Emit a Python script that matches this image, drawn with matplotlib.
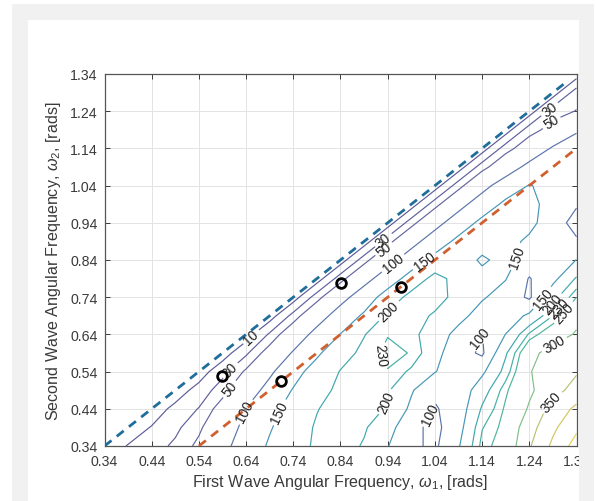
import numpy as np
import matplotlib
matplotlib.use("Agg")
import matplotlib.pyplot as plt
from matplotlib.patches import Rectangle

plt.rcParams['font.family'] = ['Liberation Sans', 'DejaVu Sans']
plt.rcParams['mathtext.fontset'] = 'custom'
plt.rcParams['mathtext.rm'] = 'Liberation Sans'
plt.rcParams['mathtext.it'] = 'Liberation Sans:italic'

# ---- data -------------------------------------------------------------
omega1 = [0.34, 0.39, 0.44, 0.49, 0.54, 0.59, 0.64, 0.69, 0.74, 0.79, 0.84,
          0.89, 0.94, 0.99, 1.04, 1.09, 1.14, 1.19, 1.24, 1.29, 1.34]
omega2 = [0.34, 0.39, 0.44, 0.49, 0.54, 0.59, 0.64, 0.69, 0.74, 0.79, 0.84,
          0.89, 0.94, 0.99, 1.04, 1.09, 1.14, 1.19, 1.24, 1.29, 1.34]

# rows: omega2 (bottom -> top), columns: omega1 (left -> right)
grid_values = [
    [0, 11, 21, 34, 56, 88, 121, 156, 187, 205, 218, 196, 152, 108, 92, 145, 240, 265, 345, 410, 470],
    [0, 0, 11, 25, 45, 77, 111, 146, 177, 205, 220, 205, 170, 112, 88, 130, 228, 260, 330, 390, 440],
    [0, 0, 0, 15, 31, 62, 101, 136, 167, 198, 218, 222, 195, 140, 96, 120, 205, 255, 305, 370, 410],
    [0, 0, 0, 0, 17, 41, 77, 115, 153, 184, 210, 226, 205, 155, 108, 115, 180, 245, 292, 330, 370],
    [0, 0, 0, 0, 0, 23, 54, 92, 133, 170, 202, 222, 228, 192, 152, 125, 140, 215, 298, 318, 345],
    [0, 0, 0, 0, 0, 0, 26, 63, 104, 142, 183, 210, 240, 228, 165, 120, 92, 195, 285, 320, 325],
    [0, 0, 0, 0, 0, 0, 0, 33, 73, 114, 151, 198, 228, 212, 175, 135, 99, 151, 235, 275, 305],
    [0, 0, 0, 0, 0, 0, 0, 0, 37, 80, 120, 157, 208, 212, 196, 165, 130, 120, 160, 230, 285],
    [0, 0, 0, 0, 0, 0, 0, 0, 0, 40, 85, 123, 172, 215, 212, 190, 155, 130, 92, 185, 250],
    [0, 0, 0, 0, 0, 0, 0, 0, 0, 0, 40, 85, 123, 170, 215, 185, 165, 152, 97, 135, 205],
    [0, 0, 0, 0, 0, 0, 0, 0, 0, 0, 0, 40, 85, 123, 165, 175, 143, 165, 130, 115, 151],
    [0, 0, 0, 0, 0, 0, 0, 0, 0, 0, 0, 0, 40, 85, 123, 162, 170, 168, 140, 122, 105],
    [0, 0, 0, 0, 0, 0, 0, 0, 0, 0, 0, 0, 0, 40, 85, 123, 162, 172, 165, 120, 85],
    [0, 0, 0, 0, 0, 0, 0, 0, 0, 0, 0, 0, 0, 0, 40, 85, 123, 160, 165, 130, 104],
    [0, 0, 0, 0, 0, 0, 0, 0, 0, 0, 0, 0, 0, 0, 0, 40, 85, 123, 152, 138, 128],
    [0, 0, 0, 0, 0, 0, 0, 0, 0, 0, 0, 0, 0, 0, 0, 0, 40, 75, 113, 140, 128],
    [0, 0, 0, 0, 0, 0, 0, 0, 0, 0, 0, 0, 0, 0, 0, 0, 0, 40, 68, 105, 135],
    [0, 0, 0, 0, 0, 0, 0, 0, 0, 0, 0, 0, 0, 0, 0, 0, 0, 0, 40, 60, 92],
    [0, 0, 0, 0, 0, 0, 0, 0, 0, 0, 0, 0, 0, 0, 0, 0, 0, 0, 0, 40, 51],
    [0, 0, 0, 0, 0, 0, 0, 0, 0, 0, 0, 0, 0, 0, 0, 0, 0, 0, 0, 0, 40],
    [0, 0, 0, 0, 0, 0, 0, 0, 0, 0, 0, 0, 0, 0, 0, 0, 0, 0, 0, 0, 0],
]

contour_levels = [10, 30, 50, 100, 150, 200, 230, 250, 300, 350, 400, 450]
level_colors = ['#5d5b98', '#5f5f9c', '#63659f', '#5a74aa', '#4596b6', '#3ea7ae',
                '#43b0a6', '#4cb59d', '#82bf88', '#b5c272', '#d3c660', '#e6d551']

# boundary lines
upper_w1 = [0.34, 1.32]
upper_w2 = [0.34, 1.32]
lower_w1 = [0.54, 1.34]
lower_w2 = [0.34, 1.14]

# marked points
mark_w1 = [0.59, 0.715, 0.841, 0.969]
mark_w2 = [0.527, 0.515, 0.778, 0.767]

tick_values = [0.34, 0.44, 0.54, 0.64, 0.74, 0.84, 0.94, 1.04, 1.14, 1.24, 1.34]
tick_labels = ['0.34', '0.44', '0.54', '0.64', '0.74', '0.84', '0.94', '1.04',
               '1.14', '1.24', '1.34']

# label placement hints (data coordinates)
label_spots = [
    (0.655, 0.628),                                   # 10
    (0.605, 0.545), (0.93, 0.895), (1.28, 1.25),      # 30
    (0.61, 0.488), (0.934, 0.866), (1.29, 1.205),     # 50
    (0.652, 0.426), (0.959, 0.819), (1.023, 0.43), (1.135, 0.632),  # 100
    (0.712, 0.43), (1.015, 0.842), (1.206, 0.851), (1.268, 0.738),  # 150
    (0.945, 0.699), (0.945, 0.453), (1.288, 0.722),   # 200
    (0.927, 0.585), (1.302, 0.712),                   # 230
    (1.312, 0.70),                                    # 250
    (1.29, 0.62),                                     # 300
    (1.298, 0.448),                                   # 350
]

# ---- figure -------------------------------------------------------------
W, H = 596, 502
fig = plt.figure(figsize=(W / 100, H / 100), dpi=100, facecolor='white')
ax = fig.add_axes([104.5 / W, (H - 447) / H, 472 / W, 372 / H])

X, Y = np.meshgrid(np.array(omega1), np.array(omega2))
Z = np.array(grid_values, dtype=float)

cs = ax.contour(X, Y, Z, levels=contour_levels, colors=level_colors,
                linewidths=0.85, zorder=2)
ax.clabel(cs, manual=label_spots, inline=True, inline_spacing=3,
          fontsize=9.8, fmt='%d', colors='#1f1f1f')

ax.plot(upper_w1, upper_w2, linestyle=(0, (3.2, 2.4)), color='#1f6d9b',
        linewidth=2.0, zorder=3)
ax.plot(lower_w1, lower_w2, linestyle=(0, (3.2, 2.4)), color='#d0602e',
        linewidth=2.0, zorder=3)
ax.plot(mark_w1, mark_w2, linestyle='none', marker='o', markersize=7,
        markerfacecolor='none', markeredgecolor='black', markeredgewidth=2.0, zorder=4)

ax.set_xlim(0.34, 1.34)
ax.set_ylim(0.34, 1.34)
ax.set_xticks(tick_values)
ax.set_xticklabels(tick_labels)
ax.set_yticks(tick_values)
ax.set_yticklabels(tick_labels)
ax.grid(True, color='#e3e3e3', linewidth=0.7)
ax.set_axisbelow(True)
ax.tick_params(direction='in', top=True, right=True, length=3.5, width=0.7,
               labelsize=10.2, colors='#3a3a3a')
ax.tick_params(axis='x', pad=6)
ax.tick_params(axis='y', pad=5)
for s in ax.spines.values():
    s.set_color('#555555')
    s.set_linewidth(0.9)

ax.set_xlabel(r'First Wave Angular Frequency, $\omega_1$, [rads]', fontsize=11.6,
              color='#3a3a3a', labelpad=3)
ax.set_ylabel(r'Second Wave Angular Frequency, $\omega_2$, [rads]', fontsize=11.6,
              color='#3a3a3a', labelpad=5)

# window frame (light grey border of the screenshot)
gray = '#f1f1f1'
def frame_rect(x0, y0, x1, y1):
    fig.add_artist(Rectangle((x0 / W, 1 - y1 / H), (x1 - x0) / W, (y1 - y0) / H,
                             transform=fig.transFigure, facecolor=gray,
                             edgecolor='none', zorder=10))
frame_rect(12, 5, 594, 21)
frame_rect(12, 5, 28, H)
frame_rect(579, 5, 594, H)

fig.savefig('out.png', dpi=100, facecolor='white')
